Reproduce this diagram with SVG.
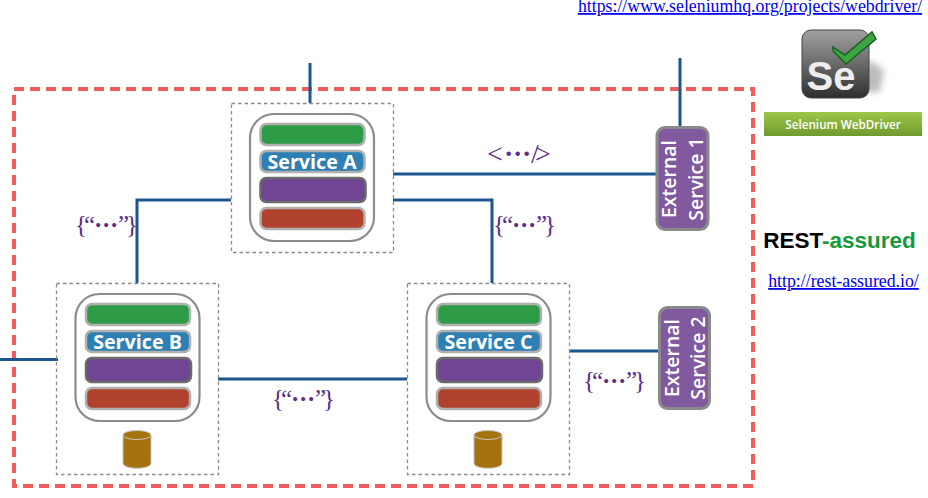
<svg xmlns="http://www.w3.org/2000/svg" width="928" height="498" viewBox="0 0 928 498">
<defs>
<style>
text{font-family:"Open Sans","Noto Sans","Liberation Sans",sans-serif}
.box{fill:none;stroke:#8a8a8a;stroke-width:1.3;stroke-dasharray:3.5 3}
.card{fill:#fff;stroke:#8b8b92;stroke-width:2.2}
.bar{stroke:#b0b0b0;stroke-width:2.5}
.g{fill:#2e9c46}.b{fill:#2e7fb3}.p{fill:#6f4594;stroke:#6a6a6a}.r{fill:#b1432e}
.svc{font-size:19.700px;font-weight:700;fill:#fff;text-anchor:middle}
.ext{fill:#80599f;stroke:#8a8a8a;stroke-width:3}
.extt{font-size:19.500px;font-weight:600;fill:#fff;text-anchor:middle}
.conn{fill:none;stroke:#1c5590;stroke-width:3}
.lab{font-size:25px;fill:#5a2f88;font-family:"Liberation Serif",serif}
.dot{font-weight:700}
.link{font-family:"Liberation Serif",serif;font-size:17.800px;fill:#0000ee;text-decoration:underline;text-anchor:middle}
.dbs{fill:#a5720f;stroke:#c4c4c4;stroke-width:1}
</style>
<linearGradient id="se" x1="0" y1="0" x2="0" y2="1"><stop offset="0" stop-color="#a0a0a0"/><stop offset=".5" stop-color="#6a6a6a"/><stop offset="1" stop-color="#2e2e2e"/></linearGradient>
<linearGradient id="wd" x1="0" y1="0" x2="0" y2="1"><stop offset="0" stop-color="#9cc84a"/><stop offset="1" stop-color="#6f9a2d"/></linearGradient>
<filter id="blur" x="-30%" y="-30%" width="160%" height="160%"><feGaussianBlur stdDeviation="3"/></filter>
<g id="bars">
<rect class="card" x="0" y="0" width="124" height="127" rx="24"/>
<rect class="bar g" x="10.500" y="10" width="104" height="21" rx="6"/>
<rect class="bar b" x="10.500" y="37" width="104" height="21" rx="6"/>
<rect class="bar p" x="10.500" y="64" width="105" height="24" rx="6"/>
<rect class="bar r" x="10.500" y="94" width="104" height="21" rx="6"/>
</g>
<g id="db">
<path class="dbs" d="M0 5V33C0 40 28 40 28 33V5"/>
<ellipse class="dbs" cx="14" cy="5" rx="14" ry="4.500"/>
</g>
</defs>
<rect x="0" y="0" width="928" height="498" fill="#fff"/>
<rect id="boundary" x="14" y="89" width="739" height="397" fill="none" stroke="#f25c5c" stroke-width="4" stroke-dasharray="10 6"/>
<g id="connectors">
<path class="conn" d="M310 63V103"/>
<path class="conn" d="M680 58V127"/>
<path class="conn" d="M393 174H656"/>
<path class="conn" d="M231 200H137V283"/>
<path class="conn" d="M393 200H492V283"/>
<path class="conn" d="M218 379H407"/>
<path class="conn" d="M0 359.500H58"/>
<path class="conn" d="M569 351H659"/>
</g>
<g id="service-a">
<rect class="box" x="231.500" y="103.500" width="162" height="149"/>
<use href="#bars" x="250" y="114"/>
<text class="svc" x="312" y="169">Service A</text>
</g>
<g id="service-b">
<rect class="box" x="56.500" y="283.500" width="162" height="191"/>
<use href="#bars" x="75.500" y="294"/>
<text class="svc" x="137.500" y="349">Service B</text>
<use href="#db" x="123" y="430"/>
</g>
<g id="service-c">
<rect class="box" x="407.500" y="283.500" width="162" height="191"/>
<use href="#bars" x="426.500" y="294"/>
<text class="svc" x="488.500" y="349">Service C</text>
<use href="#db" x="474" y="430"/>
</g>
<g id="external-1">
<rect class="ext" x="657" y="127.500" width="51" height="102" rx="8"/>
<text class="extt" transform="translate(676 179) rotate(-90)">External</text>
<text class="extt" transform="translate(703 179) rotate(-90)">Service 1</text>
</g>
<g id="external-2">
<rect class="ext" x="659.500" y="307.500" width="50" height="101" rx="8"/>
<text class="extt" transform="translate(678.500 358) rotate(-90)">External</text>
<text class="extt" transform="translate(705 358) rotate(-90)">Service 2</text>
</g>
<g id="labels">
<text class="lab" x="487 504 513 522 531 535" y="163" style="font-size:28px">&lt;<tspan class="dot">···</tspan>/&gt;</text>
<text class="lab" x="75 84 94 102 110 118 126" y="233">{“<tspan class="dot">···</tspan>”}</text>
<text class="lab" x="493 502 512 520 528 536 544" y="233">{“<tspan class="dot">···</tspan>”}</text>
<text class="lab" x="272 281 291 299 307 315 323" y="407">{“<tspan class="dot">···</tspan>”}</text>
<text class="lab" x="583 592 602 610 618 626 634" y="389">{“<tspan class="dot">···</tspan>”}</text>
</g>
<g id="selenium">
<text class="link" x="750" y="12">https://www.seleniumhq.org/projects/webdriver/</text>
<path d="M850 92H880L884 70L870 60Z" fill="#888" opacity=".55" filter="url(#blur)"/>
<rect x="802" y="30" width="67" height="68" rx="9" fill="url(#se)" stroke="#444"/>
<text x="831" y="90" font-size="40" font-weight="700" fill="#eee" text-anchor="middle" style="font-family:'Liberation Sans',sans-serif">Se</text>
<path d="M833 47L845 55L872 32L876 39L846 64L833 51Z" fill="#3aa63f" stroke="#1d5e22" stroke-width="1.500"/>
<rect x="764" y="112" width="158" height="24" fill="url(#wd)"/>
<text x="843" y="129" font-size="11.700" font-weight="600" fill="#fff" text-anchor="middle">Selenium WebDriver</text>
</g>
<g id="rest-assured">
<text x="839.500" y="248" font-size="22.500" font-weight="700" text-anchor="middle" style="font-family:'Liberation Sans',sans-serif"><tspan fill="#000">REST</tspan><tspan fill="#14993c">-assured</tspan></text>
<text class="link" x="843.500" y="287">http://rest-assured.io/</text>
</g>
</svg>
